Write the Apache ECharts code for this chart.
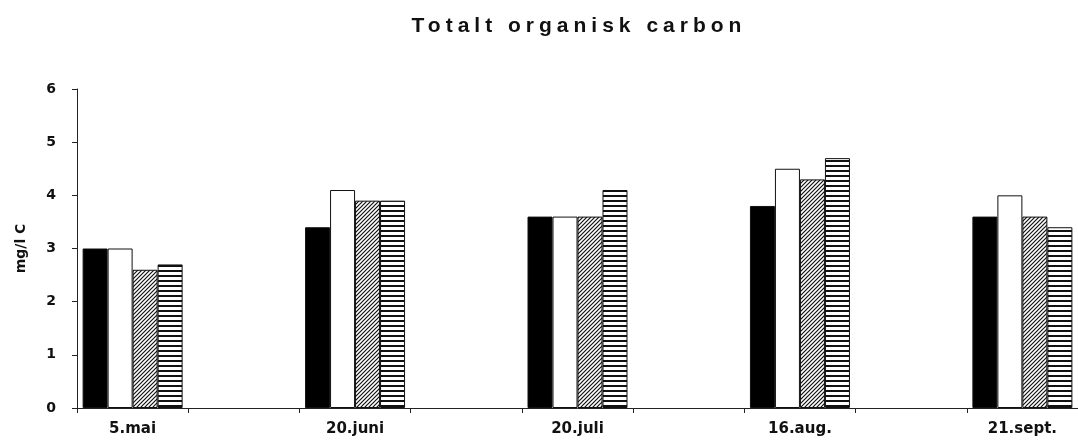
<!DOCTYPE html>
<html>
<head>
<meta charset="utf-8">
<script src="https://cdn.jsdelivr.net/npm/echarts@6/dist/echarts.min.js"></script>
<style>
  html, body { margin: 0; padding: 0; background: #fff; }
  #wrap { position: relative; width: 1078px; height: 441px; }
  #main { width: 1078px; height: 441px; }
  #title {
    position: absolute; left: 0; top: 13px; width: 1078px; padding-left: 80px; box-sizing: border-box;
    text-align: center; font: bold 21px "Liberation Sans", Arial, sans-serif; letter-spacing: 5px; color: #111;
  }
</style>
</head>
<body>
<div id="wrap">
  <div id="main"></div>
  <div id="title">Totalt organisk carbon</div>
</div>
<script>
// datoer, med tomme plasser mellom gruppene
var dates = ['5.mai', '20.juni', '20.juli', '16.aug.', '21.sept.']
var serieA = [3.0, 3.4, 3.6, 3.8, 3.6] // svart
var serieB = [3.0, 4.1, 3.6, 4.5, 4.0] // hvit
var serieC = [2.6, 3.9, 3.6, 4.3, 3.6] // skravert
var serieD = [2.7, 3.9, 4.1, 4.7, 3.4] // stripet
var yTicks = [0, 1, 2, 3, 4, 5, 6]

// lag kategorier med et tomt felt mellom hver dato
function spread(arr, blank) {
  var out = []
  arr.forEach(function (v, i) {
    if (i > 0) out.push(blank)
    out.push(v)
  })
  return out
}

function hatch() {
  var c = document.createElement('canvas')
  c.width = 4; c.height = 4
  var ctx = c.getContext('2d')
  ctx.fillStyle = '#fff'; ctx.fillRect(0, 0, 4, 4)
  ctx.strokeStyle = '#111'; ctx.lineWidth = 1.2
  ctx.beginPath()
  ctx.moveTo(0, 4); ctx.lineTo(4, 0)
  ctx.moveTo(-1, 1); ctx.lineTo(1, -1)
  ctx.moveTo(3, 5); ctx.lineTo(5, 3)
  ctx.stroke()
  return c
}
function stripes() {
  var c = document.createElement('canvas')
  c.width = 4; c.height = 5
  var ctx = c.getContext('2d')
  ctx.fillStyle = '#fff'; ctx.fillRect(0, 0, 4, 5)
  ctx.fillStyle = '#111'; ctx.fillRect(0, 0, 4, 2)
  return c
}

var font = '"DejaVu Sans", sans-serif'
var fills = ['#000', '#fff', { image: hatch(), repeat: 'repeat' }, { image: stripes(), repeat: 'repeat' }]
var values = [serieA, serieB, serieC, serieD]

var series = values.map(function (v, i) {
  return {
    type: 'bar',
    data: spread(v, '-'),
    barWidth: 25,
    barGap: '0%',
    itemStyle: { color: fills[i], borderColor: '#111', borderWidth: 1 },
    silent: true
  }
})

var myChart = echarts.init(document.getElementById('main'))
myChart.setOption({
  animation: false,
  grid: { left: 77, top: 89, width: 1003, height: 319 },
  xAxis: {
    type: 'category',
    data: spread(dates, ''),
    axisLine: { lineStyle: { color: '#222', width: 1 } },
    axisTick: { show: true, length: 5, lineStyle: { color: '#222' } },
    axisLabel: { color: '#111', fontWeight: 'bold', fontSize: 15, fontFamily: font, margin: 14, interval: 0 }
  },
  yAxis: {
    type: 'value',
    min: 0, max: 6, interval: 1,
    name: 'mg/l C',
    nameLocation: 'middle',
    nameGap: 49,
    nameTextStyle: { color: '#111', fontWeight: 'bold', fontSize: 14, fontFamily: font },
    axisLine: { show: true, lineStyle: { color: '#222', width: 1 } },
    axisTick: { show: true, length: 5, lineStyle: { color: '#222' } },
    splitLine: { show: false },
    axisLabel: {
      color: '#111', fontWeight: 'bold', fontSize: 14, fontFamily: font, margin: 21,
      formatter: function (v) { return yTicks.indexOf(v) >= 0 ? String(v) : '' }
    }
  },
  series: series
})
</script>
</body>
</html>
